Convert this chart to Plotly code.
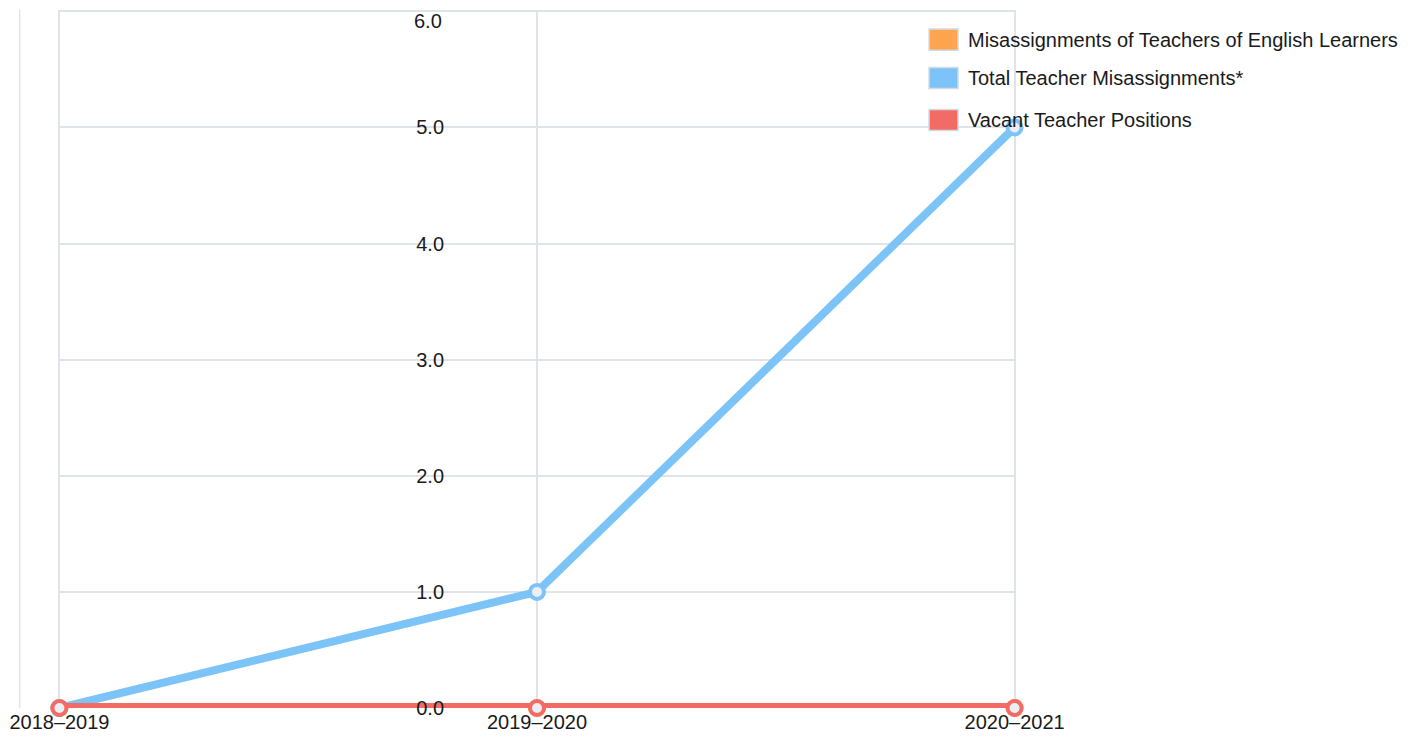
import plotly.graph_objects as go

years = ["2018–2019", "2019–2020", "2020–2021"]
el_misassign = [0, 0, 0]
total_misassign = [0, 1, 5]
vacant = [0, 0, 0]
y_ticks = [0, 1, 2, 3, 4, 5, 6]
y_tick_labels = ["0.0", "1.0", "2.0", "3.0", "4.0", "5.0", "6.0"]

names = ["Misassignments of Teachers of English Learners",
         "Total Teacher Misassignments*",
         "Vacant Teacher Positions"]
colors = ["#ffa54f", "#7cc3f7", "#f26b65"]
widths = [9, 8, 10]
series = [el_misassign, total_misassign, vacant]

fig = go.Figure()
for vals, c, w, n in zip(series, colors, widths, names):
    fig.add_trace(go.Scatter(
        x=years, y=vals, mode="lines+markers", name=n, showlegend=False,
        line=dict(color=c, width=w),
        marker=dict(size=14, color="#eceef4", line=dict(color=c, width=4)),
        cliponaxis=False, hoverinfo="skip"))

# legend drawn as swatches + labels (paper coordinates)
leg_rows = [0.9577, 0.9026, 0.8424]
shapes = [dict(type="line", xref="paper", yref="paper", x0=-0.04, x1=-0.04,
               y0=0, y1=1.0, line=dict(color="#dfe3ea", width=1.5))]
annotations = []
for yc, n, c in zip(leg_rows, names, colors):
    shapes.append(dict(type="rect", xref="paper", yref="paper",
                       x0=0.9092, x1=0.9395, y0=yc - 0.0152, y1=yc + 0.0152,
                       fillcolor=c, line=dict(color="#d6dae2", width=1.5)))
    annotations.append(dict(xref="paper", yref="paper", x=0.9478, y=yc,
                            xanchor="left", yanchor="middle", text=n,
                            showarrow=False,
                            font=dict(size=20, color="#1a1a1a")))

# top tick label placed just below its gridline (as in the reference)
tick_text_shown = y_tick_labels[:-1] + [""]
annotations.append(dict(xref="paper", yref="y", x=0.4025, y=y_ticks[-1],
                        xanchor="right", yanchor="top", yshift=3,
                        text=y_tick_labels[-1], showarrow=False,
                        font=dict(size=20, color="#1a1a1a")))

fig.update_layout(
    width=1402, height=733,
    margin=dict(l=50, r=394, t=2, b=33, autoexpand=False),
    paper_bgcolor="white", plot_bgcolor="white",
    font=dict(family="Liberation Sans, Arial", size=20, color="#1a1a1a"),
    showlegend=False,
    xaxis=dict(type="category", range=[-0.003, 2.003], showgrid=True,
               gridcolor="#dfe3ea", gridwidth=1.5, zeroline=False,
               showline=False, ticks="", automargin=False,
               tickfont=dict(size=20, color="#1a1a1a")),
    yaxis=dict(range=[0, 6.012], tickvals=y_ticks, ticktext=tick_text_shown,
               showgrid=True, gridcolor="#dfe3ea", gridwidth=1.5,
               zeroline=False, showline=False, ticks="", automargin=False,
               anchor="free", position=0.403, ticklabeloverflow="allow",
               tickfont=dict(size=20, color="#1a1a1a")),
    shapes=shapes,
    annotations=annotations,
)
fig.write_html("out.html")
